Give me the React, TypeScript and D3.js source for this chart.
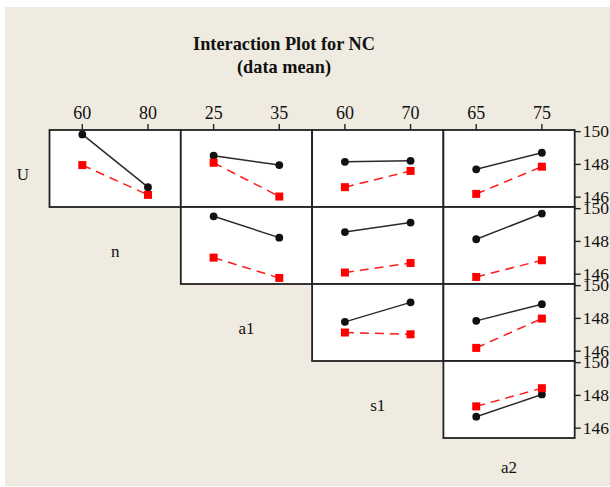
import React from "react";
import * as d3 from "d3";

// factor names (row factor on the left / diagonal, column factor on top)
const factors = ["U", "n", "a1", "s1", "a2"];
const colLevels = [
  ["60", "80"],
  ["25", "35"],
  ["60", "70"],
  ["65", "75"],
];
const yTicks = [146, 148, 150];

// means for level 1 (black, solid) and level 2 (red, dashed) of the row factor
// one pair per column, columns start at the diagonal
const blackU = [[149.83, 146.61], [148.53, 147.96], [148.16, 148.22], [147.7, 148.71]];
const redU = [[147.96, 146.14], [148.1, 146.04], [146.61, 147.6], [146.2, 147.86]];
const blackN = [[149.53, 148.23], [148.57, 149.15], [148.13, 149.7]];
const redN = [[147.01, 145.77], [146.1, 146.68], [145.83, 146.85]];
const blackA1 = [[147.79, 148.98], [147.85, 148.87]];
const redA1 = [[147.14, 147.03], [146.2, 147.99]];
const blackS1 = [[146.7, 148.06]];
const redS1 = [[147.33, 148.44]];

const blackRows = [blackU, blackN, blackA1, blackS1];
const redRows = [redU, redN, redA1, redS1];

const W = 610;
const H = 487;
const left = 49.5;
const top = 130;
const cellW = 131.3;
const cellH = 77;
const serif = "'Liberation Serif', 'Times New Roman', serif";

export default function App() {
  const y = d3.scaleLinear().domain([145.4, 150.1]).range([cellH, 0]);
  const xFor = (c: number) =>
    d3
      .scalePoint<string>()
      .domain(colLevels[c])
      .range([left + c * cellW, left + (c + 1) * cellW])
      .padding(0.5);
  const rightX = left + 4 * cellW;

  const frames: JSX.Element[] = [];
  const marks: JSX.Element[] = [];
  blackRows.forEach((rowB, r) => {
    const rowR = redRows[r];
    const y0 = top + r * cellH;
    rowB.forEach((vb, k) => {
      const c = r + k;
      const x = xFor(c);
      const vr = rowR[k];
      const line = d3
        .line<number>()
        .x((_, i) => x(colLevels[c][i]) as number)
        .y((v) => y0 + y(v));
      frames.push(
        <rect
          key={`f${r}-${c}`}
          x={left + c * cellW}
          y={y0}
          width={cellW}
          height={cellH}
          fill="#fff"
          stroke="#222"
          strokeWidth={1.8}
        />
      );
      marks.push(
        <g key={`p${r}-${c}`}>
          <path d={line(vb) || ""} fill="none" stroke="#2a2a2a" strokeWidth={1.5} />
          {vb.map((v, i) => (
            <circle
              key={i}
              cx={x(colLevels[c][i])}
              cy={y0 + y(v)}
              r={3.9}
              fill="#111"
            />
          ))}
          <path
            d={line(vr) || ""}
            fill="none"
            stroke="#ff1a1a"
            strokeWidth={1.5}
            strokeDasharray="9,6"
          />
          {vr.map((v, i) => (
            <rect
              key={i}
              x={(x(colLevels[c][i]) as number) - 4}
              y={y0 + y(v) - 4}
              width={8}
              height={8}
              fill="#ff0000"
            />
          ))}
        </g>
      );
    });
  });

  return (
    <div style={{ position: "absolute", left: 0, top: 0 }}>
      <svg width={W} height={H} style={{ display: "block", fontFamily: serif }}>
        <rect x={0} y={0} width={W} height={H} fill="#fff" />
        <rect x={5} y={7} width={W - 5} height={479} fill="#efebe1" />
        <text x={284} y={50} textAnchor="middle" fontSize={18.3} fontWeight="bold" fill="#111">
          Interaction Plot for NC
        </text>
        <text x={284} y={73} textAnchor="middle" fontSize={18.3} fontWeight="bold" fill="#111">
          (data mean)
        </text>

        {/* top axis */}
        {colLevels.map((lv, c) => {
          const x = xFor(c);
          return lv.map((l) => (
            <g key={`t${c}-${l}`}>
              <line x1={x(l)} x2={x(l)} y1={top - 6} y2={top} stroke="#222" strokeWidth={1.4} />
              <text x={x(l)} y={top - 11} textAnchor="middle" fontSize={18} fill="#111">
                {l}
              </text>
            </g>
          ));
        })}

        {frames}
        {marks}

        {/* right axis, one per row */}
        {blackRows.map((_, r) =>
          yTicks.map((t) => {
            const yy = top + r * cellH + y(t);
            return (
              <g key={`r${r}-${t}`}>
                <line x1={rightX} x2={rightX + 6} y1={yy} y2={yy} stroke="#222" strokeWidth={1.4} />
                <text x={rightX + 8} y={yy + 5.5} fontSize={17.5} fill="#111">
                  {t}
                </text>
              </g>
            );
          })
        )}

        {/* factor names */}
        {factors.map((f, i) => {
          const cx = left + (i - 1) * cellW + cellW / 2;
          const cy = i < 4 ? top + i * cellH + cellH / 2 + 11 : top + 4 * cellH + 35;
          return (
            <text
              key={f}
              x={i === 0 ? 23 : cx}
              y={cy}
              textAnchor="middle"
              fontSize={17}
              fill="#111"
            >
              {f}
            </text>
          );
        })}
      </svg>
    </div>
  );
}
